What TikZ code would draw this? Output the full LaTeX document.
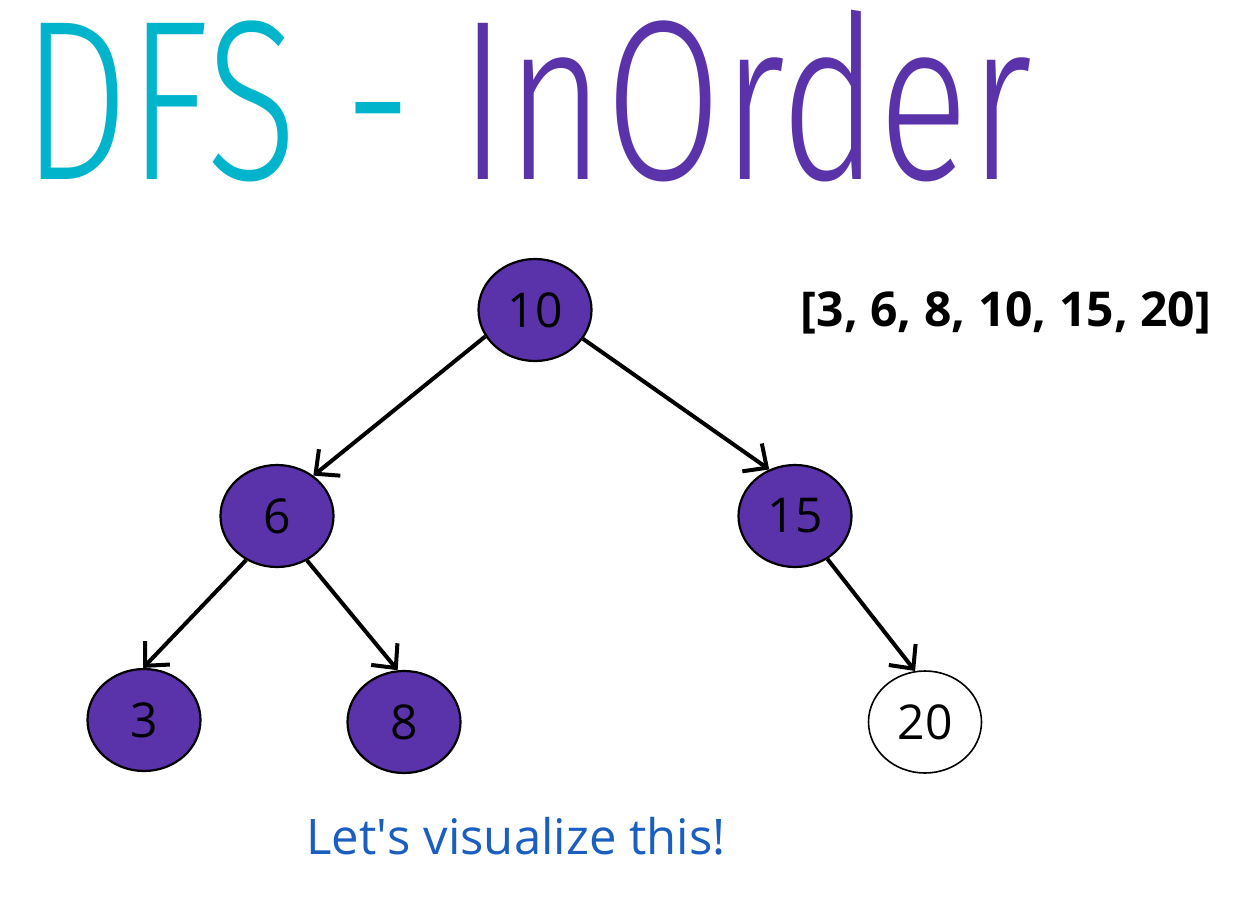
\documentclass[tikz,border=0pt]{standalone}
\usepackage{fontspec}
\setmainfont{Open Sans}
\newfontfamily\titleFont{Fira Sans Light}
\usetikzlibrary{positioning,shapes.geometric,arrows.meta}
\definecolor{titleCyan}{HTML}{00B4CC}
\definecolor{treePurple}{HTML}{5A32A9}
\definecolor{noteBlue}{HTML}{1A5FBF}
\tikzstyle{canvas} = [x = 1pt, y = -1pt]
\tikzstyle{treeNode} = [ellipse, draw=black, line width=2.2pt, fill=treePurple, minimum width=113pt, minimum height=102pt, inner sep=0pt, font=\fontsize{48}{48}\selectfont]
\tikzstyle{openNode} = [treeNode, fill=white, line width=1.6pt]
\tikzstyle{edgeStyle} = [draw=black, line width=4pt, -{Straight Barb[length=18pt, width=34pt]}]
\tikzstyle{titleText} = [anchor=base west, inner sep=0pt, font=\titleFont\fontsize{228}{228}\selectfont]
\newcommand{\treeNode}[4]{\node [treeNode] (#1) at (#2, #3) {#4};}
\newcommand{\treeEdge}[4]{\draw [edgeStyle] (#1.#2) -- (#3.#4);}
\begin{document}
\begin{tikzpicture}[canvas]
\useasboundingbox (0,0) rectangle (1247,915);
\node [titleText] (title) at (22,179) {\scalebox{0.74}[1]{\textcolor{titleCyan}{DFS -} \textcolor{treePurple}{InOrder}}};
% the tree
\treeNode{n10}{535}{310}{10}
\treeNode{n6}{277}{516}{6}
\treeNode{n15}{795}{516}{15}
\treeNode{n3}{144}{720}{3}
\treeNode{n8}{404}{722}{8}
\node [openNode] (n20) at (925,722) {20};
\treeEdge{n10}{208}{n6}{48}
\treeEdge{n10}{329}{n15}{119}
\treeEdge{n6}{235}{n3}{91}
\treeEdge{n6}{304}{n8}{97}
\treeEdge{n15}{307}{n20}{101}
% result and note
\node [font=\bfseries\fontsize{48}{48}\selectfont] (result) at (1006,313) {[3, 6, 8, 10, 15, 20]};
\node [font=\fontsize{49}{49}\selectfont, text=noteBlue] (note) at (516,836) {Let\textquotesingle s visualize this!};
\end{tikzpicture}
\end{document}
